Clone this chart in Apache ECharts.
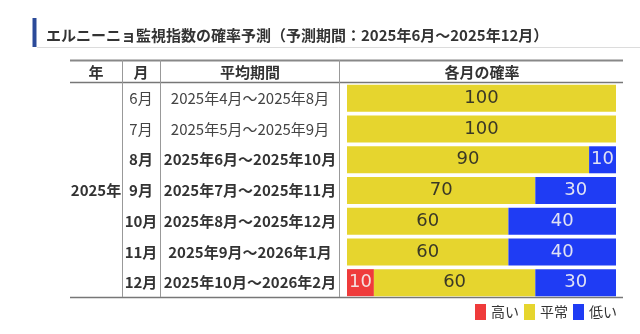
<!DOCTYPE html>
<html>
<head>
<meta charset="utf-8">
<script src="https://cdn.jsdelivr.net/npm/echarts@6/dist/echarts.min.js"></script>
<style>html,body{margin:0;padding:0;background:#fff;}#c{width:640px;height:334px;}</style>
</head>
<body>
<div id="c"></div>
<script>
var titleText = 'エルニーニョ監視指数の確率予測（予測期間：2025年6月～2025年12月）';
var headers = ['年', '月', '平均期間', '各月の確率'];
var months = ['6月', '7月', '8月', '9月', '10月', '11月', '12月'];
var years = ['', '', '', '2025年', '', '', ''];
var periods = ['2025年4月～2025年8月', '2025年5月～2025年9月', '2025年6月～2025年10月', '2025年7月～2025年11月', '2025年8月～2025年12月', '2025年9月～2026年1月', '2025年10月～2026年2月'];
var boldRows = [false, false, true, true, true, true, true];
var seriesNames = ['高い', '平常', '低い'];
var highVals = [0, 0, 0, 0, 0, 0, 10];
var normalVals = [100, 100, 90, 70, 60, 60, 60];
var lowVals = [0, 0, 10, 30, 40, 40, 30];

var FONT = '"Noto Sans CJK JP", "Noto Sans", sans-serif';
var chart = echarts.init(document.getElementById('c'));

function rowFmt(list) {
  return function (v, i) {
    var t = list[i];
    if (!t) return '';
    return (boldRows[i] ? '{b|' : '{n|') + t + '}';
  };
}
var richStyle = {
  n: { fontFamily: FONT, fontSize: 15, fontWeight: 'normal', color: '#444' },
  b: { fontFamily: FONT, fontSize: 15, fontWeight: 'bold', color: '#333' }
};
function catAxis(list, margin) {
  return {
    type: 'category', data: months, inverse: true, position: 'left',
    axisLine: { show: false }, axisTick: { show: false }, splitLine: { show: false },
    axisLabel: { margin: margin, align: 'center', formatter: rowFmt(list), rich: richStyle }
  };
}
function barLabel(color) {
  return {
    show: true, position: 'inside', color: color,
    fontFamily: '"DejaVu Sans", sans-serif', fontSize: 18, fontWeight: 'normal',
    formatter: function (p) { return p.value > 0 ? String(p.value) : ''; }
  };
}
var colors = ['#ef3b3b', '#e6d52e', '#1f3cf4'];
var lineGray = '#888';

chart.setOption({
  animation: false,
  color: colors,
  grid: { left: 347, right: 24, top: 83, bottom: 36, containLabel: false },
  xAxis: { type: 'value', min: 0, max: 100, show: false },
  yAxis: [catAxis(months, 206), catAxis(periods, 97), catAxis(years, 251)],
  legend: {
    data: seriesNames, left: 475, top: 304, itemWidth: 11, itemHeight: 16, itemGap: 5,
    icon: 'rect', selectedMode: false, padding: 0,
    textStyle: { fontFamily: FONT, fontSize: 14, color: '#333' }
  },
  series: [
    { name: seriesNames[0], type: 'bar', stack: 's', data: highVals, barWidth: 27, label: barLabel('#f4e0e0') },
    { name: seriesNames[1], type: 'bar', stack: 's', data: normalVals, barWidth: 27, label: barLabel('#3a3826') },
    { name: seriesNames[2], type: 'bar', stack: 's', data: lowVals, barWidth: 27, label: barLabel('#e0e2f4') }
  ],
  graphic: [
    { type: 'rect', shape: { x: 32.5, y: 18, width: 4, height: 29 }, style: { fill: '#2b4a99' } },
    { type: 'line', shape: { x1: 37, y1: 47.5, x2: 640, y2: 47.5 }, style: { stroke: '#dcdcdc', lineWidth: 1 } },
    { type: 'text', x: 46, y: 35, style: { text: titleText, fontFamily: FONT, fontSize: 15, fontWeight: 'bold', fill: '#333', verticalAlign: 'middle' } },
    { type: 'line', shape: { x1: 70, y1: 60.5, x2: 623, y2: 60.5 }, style: { stroke: lineGray, lineWidth: 2 } },
    { type: 'line', shape: { x1: 70, y1: 82.5, x2: 623, y2: 82.5 }, style: { stroke: '#777', lineWidth: 1.5 } },
    { type: 'line', shape: { x1: 70, y1: 297.5, x2: 623, y2: 297.5 }, style: { stroke: '#777', lineWidth: 1.5 } },
    { type: 'line', shape: { x1: 122.5, y1: 60, x2: 122.5, y2: 297 }, style: { stroke: '#999', lineWidth: 1 } },
    { type: 'line', shape: { x1: 160.5, y1: 60, x2: 160.5, y2: 297 }, style: { stroke: '#999', lineWidth: 1 } },
    { type: 'line', shape: { x1: 339.5, y1: 60, x2: 339.5, y2: 297 }, style: { stroke: '#999', lineWidth: 1 } },
    { type: 'text', x: 96, y: 72, style: { text: headers[0], fontFamily: FONT, fontSize: 15, fontWeight: 'bold', fill: '#333', align: 'center', verticalAlign: 'middle' } },
    { type: 'text', x: 141, y: 72, style: { text: headers[1], fontFamily: FONT, fontSize: 15, fontWeight: 'bold', fill: '#333', align: 'center', verticalAlign: 'middle' } },
    { type: 'text', x: 250, y: 72, style: { text: headers[2], fontFamily: FONT, fontSize: 15, fontWeight: 'bold', fill: '#333', align: 'center', verticalAlign: 'middle' } },
    { type: 'text', x: 482, y: 72, style: { text: headers[3], fontFamily: FONT, fontSize: 15, fontWeight: 'bold', fill: '#333', align: 'center', verticalAlign: 'middle' } }
  ]
});
</script>
</body>
</html>
